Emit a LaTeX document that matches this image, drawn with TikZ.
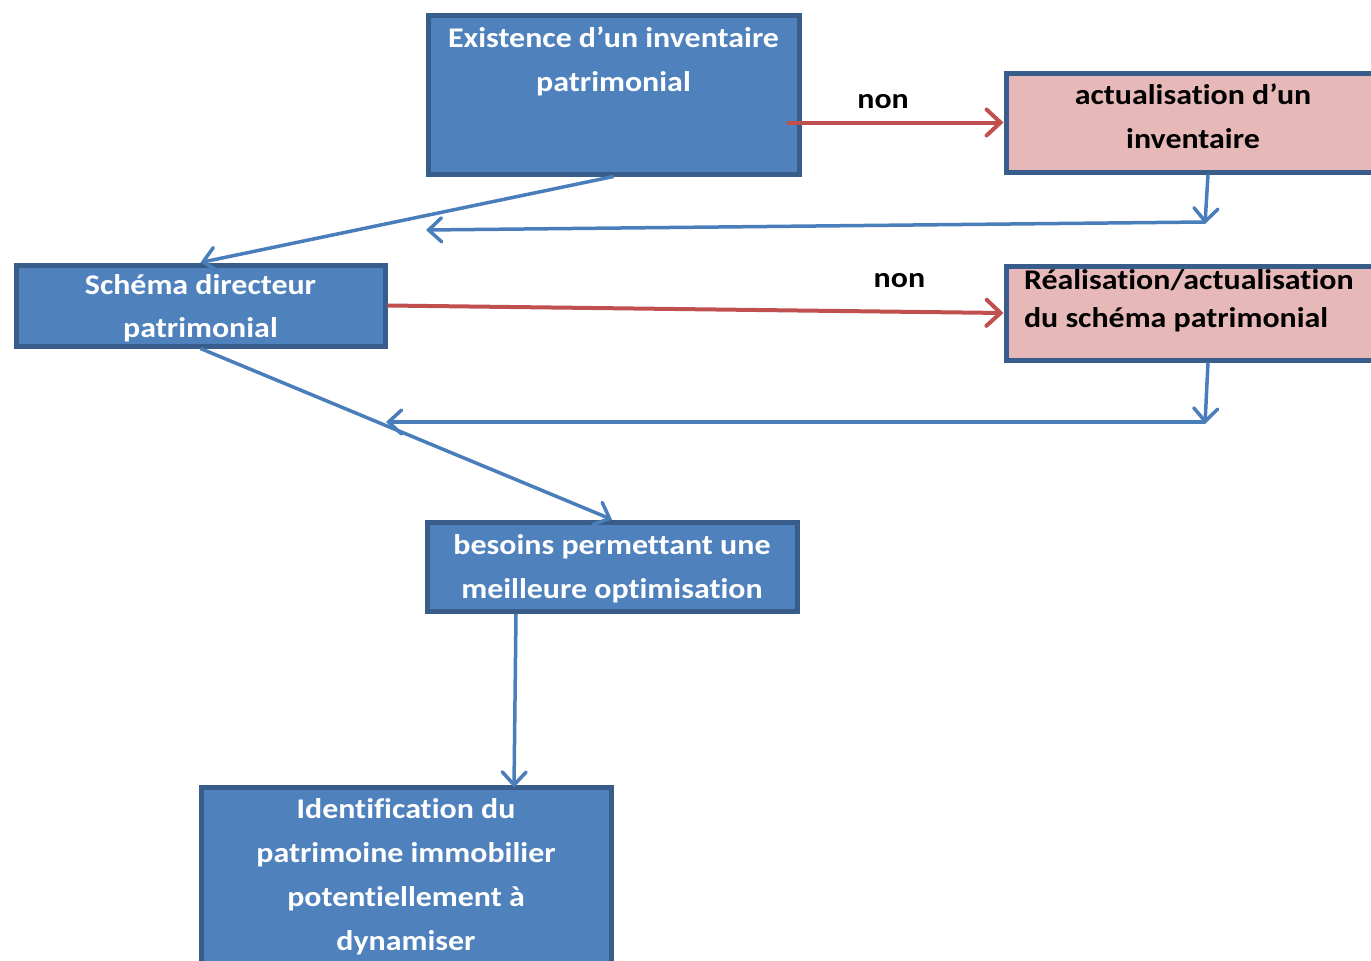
\documentclass[tikz,border=0pt]{standalone}
\usepackage{fontspec}
\setmainfont{Carlito}[FakeStretch=1.12, Ligatures=NoCommon]
\usetikzlibrary{arrows.meta}
\definecolor{bfill}{HTML}{4F81BD}
\definecolor{bdraw}{HTML}{385D8A}
\definecolor{pinkfill}{HTML}{E6B9B8}
\definecolor{redline}{HTML}{C0504D}
\definecolor{blueline}{HTML}{4A7EBB}
\newcommand\boxtext[4]{\parbox[t][#2][t]{#1}{\centering\rule{0pt}{#3}#4}}
\tikzset{
  bluebox/.style={draw=bdraw, fill=bfill, line width=5pt, inner sep=0pt, anchor=north west, text=white, font=\bfseries\fontsize{28.5}{44}\selectfont},
  pinkbox/.style={draw=bdraw, fill=pinkfill, line width=5pt, inner sep=0pt, anchor=north west, text=black, font=\bfseries\fontsize{28.5}{44}\selectfont},
  redarrow/.style={draw=redline, line width=4pt, -{Straight Barb[length=14pt,width=26pt,line cap=round]}},
  bluearrow/.style={draw=blueline, line width=3.5pt, -{Straight Barb[length=13pt,width=24pt,line cap=round]}},
  nonlbl/.style={font=\bfseries\fontsize{28.5}{30}\selectfont, text=black, inner sep=0pt, anchor=base}
}
\begin{document}
\begin{tikzpicture}[x=1pt,y=-1pt]
\useasboundingbox (0,0) rectangle (1371,961);
\node[bluebox] (ex) at (425.5,12.5) {\boxtext{371pt}{159pt}{32.5pt}{Existence d’un inventaire\\ patrimonial}};
\node[pinkbox] (act) at (1003.5,70.5) {\boxtext{374pt}{99pt}{31.5pt}{actualisation d’un\\ inventaire}};
\node[bluebox] (sch) at (13.5,262.5) {\boxtext{369pt}{81pt}{29.5pt}{Schéma directeur\\[-1pt] patrimonial}};
\node[pinkbox] (rea) at (1003.5,263.5) {\parbox[t][94pt][t]{374pt}{\fontsize{28.5}{38}\selectfont\raggedright\hspace*{18pt}\rule{0pt}{23.5pt}Réalisation/actualisation\\ \hspace*{18pt}du schéma patrimonial}};
\node[bluebox] (bes) at (424.5,519.5) {\boxtext{370pt}{89pt}{32.5pt}{besoins permettant une\\ meilleure optimisation}};
\node[bluebox] (id) at (198.5,784.5) {\boxtext{410pt}{220pt}{31.5pt}{Identification du\\ patrimoine immobilier\\ potentiellement à\\ dynamiser}};
\coordinate (c1) at (1205,222);
\coordinate (c2) at (426,230);
\coordinate (c3) at (1205,422);
\coordinate (c4) at (386,422);
\draw[redarrow] ([xshift=-15pt]ex.east |- act.west) -- (act.west) node[nonlbl, pos=0.445, yshift=14.4pt] (n1) {non};
\draw[redarrow] (sch.east) -- (rea.west) node[nonlbl, pos=0.831, yshift=24pt] (n2) {non};
\draw[bluearrow] ([xshift=15pt]act.south) -- ([yshift=-2pt]c1);
\draw[bluearrow] (c1) -- (c2);
\draw[bluearrow] (ex.south) -- (sch.north);
\draw[bluearrow] ([xshift=15pt]rea.south) -- ([yshift=-2pt]c3);
\draw[bluearrow] (c3) -- (c4);
\draw[bluearrow] (sch.south) -- (bes.north);
\draw[bluearrow] ([xshift=-96pt]bes.south) -- ([xshift=108pt,yshift=-3pt]id.north);
\end{tikzpicture}
\end{document}
